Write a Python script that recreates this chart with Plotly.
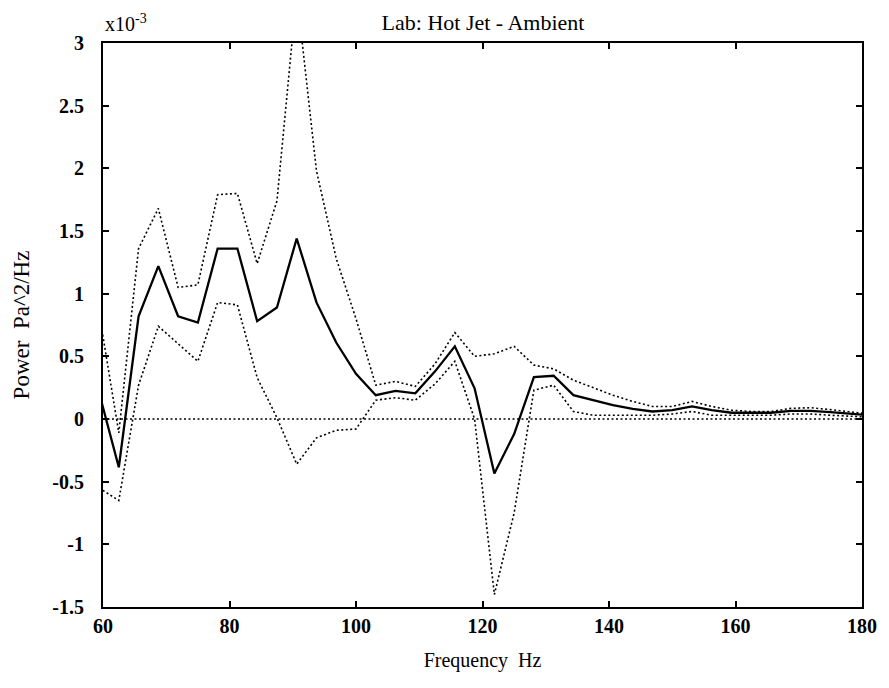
import plotly.graph_objects as go

# frequency grid (Hz), 3.125 Hz spacing
freq = [59.375, 62.5, 65.625, 68.75, 71.875, 75.0, 78.125, 81.25, 84.375, 87.5,
        90.625, 93.75, 96.875, 100.0, 103.125, 106.25, 109.375, 112.5, 115.625, 118.75,
        121.875, 125.0, 128.125, 131.25, 134.375, 137.5, 140.625, 143.75, 146.875, 150.0,
        153.125, 156.25, 159.375, 162.5, 165.625, 168.75, 171.875, 175.0, 178.125, 181.25]

# power, units of 1e-3 Pa^2/Hz
power_mean = [0.21, -0.385, 0.82, 1.22, 0.82, 0.77, 1.36, 1.36, 0.78, 0.89,
              1.44, 0.93, 0.61, 0.36, 0.19, 0.225, 0.205, 0.38, 0.58, 0.245,
              -0.435, -0.12, 0.335, 0.345, 0.19, 0.15, 0.11, 0.08, 0.06, 0.07,
              0.10, 0.07, 0.05, 0.05, 0.05, 0.065, 0.065, 0.055, 0.04, 0.03]

power_upper = [0.85, -0.11, 1.36, 1.68, 1.05, 1.07, 1.79, 1.80, 1.24, 1.74,
               3.4, 1.98, 1.28, 0.80, 0.27, 0.30, 0.26, 0.44, 0.69, 0.50,
               0.52, 0.58, 0.43, 0.40, 0.31, 0.25, 0.19, 0.14, 0.10, 0.10,
               0.14, 0.10, 0.07, 0.06, 0.06, 0.085, 0.09, 0.075, 0.06, 0.04]

power_lower = [-0.55, -0.65, 0.27, 0.74, 0.60, 0.46, 0.93, 0.91, 0.33, 0.01,
               -0.36, -0.15, -0.09, -0.08, 0.15, 0.17, 0.15, 0.28, 0.46, 0.0,
               -1.40, -0.75, 0.23, 0.27, 0.06, 0.03, 0.03, 0.03, 0.03, 0.04,
               0.06, 0.03, 0.03, 0.03, 0.03, 0.04, 0.04, 0.03, 0.02, 0.015]

zero_x = [60, 180]
zero_y = [0, 0]

x_ticks = [60, 80, 100, 120, 140, 160, 180]
y_ticks = [-1.5, -1, -0.5, 0, 0.5, 1, 1.5, 2, 2.5, 3]
y_ticktext = ['-1.5', '-1', '-0.5', '0', '0.5', '1', '1.5', '2', '2.5', '3']

serif = 'Liberation Serif, Times New Roman, serif'
dots = '2px,2.5px'

fig = go.Figure()

# zero reference
fig.add_trace(go.Scatter(x=zero_x, y=zero_y, mode='lines',
                         line=dict(color='black', width=1.6, dash=dots)))

# confidence bounds
fig.add_trace(go.Scatter(x=freq, y=power_upper, mode='lines',
                         line=dict(color='black', width=1.6, dash=dots)))
fig.add_trace(go.Scatter(x=freq, y=power_lower, mode='lines',
                         line=dict(color='black', width=1.6, dash=dots)))

# mean spectrum
fig.add_trace(go.Scatter(x=freq, y=power_mean, mode='lines',
                         line=dict(color='black', width=2.3)))

# page body has an 8px margin, so the figure is 8px smaller than the window
fig.update_layout(
    width=881, height=680,
    margin=dict(l=91, r=22, t=35, b=81),
    paper_bgcolor='white', plot_bgcolor='white',
    showlegend=False,
    font=dict(family=serif, color='black', size=18),
    title=dict(text='Lab: Hot Jet - Ambient', x=475 / 881, xanchor='center',
               y=1 - 14 / 680, yanchor='middle', font=dict(size=22, family=serif)),
)

fig.update_xaxes(
    range=[60, 180], tickvals=x_ticks, ticks='inside', ticklen=6,
    tickwidth=1.5, tickcolor='black', showline=True, linecolor='black',
    linewidth=2, mirror='ticks', showgrid=False, zeroline=False,
    tickfont=dict(size=20, family=serif, weight='bold'),
    title=dict(text='Frequency  Hz', font=dict(size=20, family=serif), standoff=17),
)
fig.update_yaxes(
    range=[-1.5, 3], tickvals=y_ticks, ticktext=y_ticktext, ticks='inside',
    ticklen=6, tickwidth=1.5, tickcolor='black', showline=True,
    linecolor='black', linewidth=2, mirror='ticks', showgrid=False,
    zeroline=False, ticklabelstandoff=13,
    tickfont=dict(size=20, family=serif, weight='bold'),
    title=dict(text='Power  Pa^2/Hz', font=dict(size=23, family=serif), standoff=16),
)

fig.add_annotation(text='x10<sup>-3</sup>', xref='paper', yref='paper',
                   x=0, y=1, xanchor='left', yanchor='bottom', yshift=6,
                   showarrow=False, font=dict(size=20, family=serif))

fig.write_html('out.html')
